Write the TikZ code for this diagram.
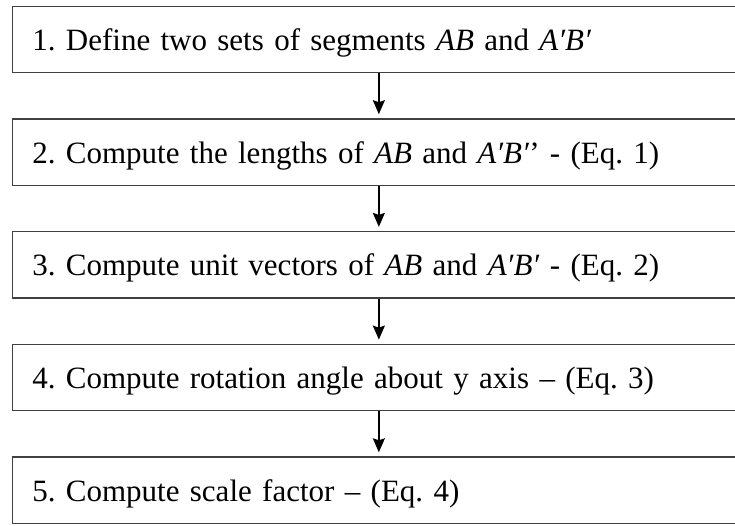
\documentclass[tikz,border=0pt]{standalone}
\usepackage{fontspec}
\setmainfont{Liberation Serif}
\usetikzlibrary{arrows.meta}
\frenchspacing
\begin{document}
\begin{tikzpicture}[x=1pt, y=-1pt, >={Stealth[length=14pt,width=12pt,inset=2pt]},
  stepbox/.style={draw=black!75, line width=1.3pt, anchor=north west,
    minimum width=733pt, minimum height=66.5pt, text width=693pt,
    inner xsep=20pt, align=left, text height=25pt, text depth=3pt,
    font=\fontsize{31}{37}\selectfont},
  flow/.style={->, line width=1.6pt, shorten >=4pt}]
\useasboundingbox (0,0) rectangle (735,525);
\node[stepbox] (s1) at (11.7,5.5) {1. Define two sets of segments \textit{AB} and \textit{A′B′}};
\node[stepbox] (s2) at (11.7,118.2) {2. Compute the lengths of \textit{AB} and \textit{A′B′}’ - (Eq. 1)};
\node[stepbox] (s3) at (11.7,230.9) {3. Compute unit vectors of \textit{AB} and \textit{A′B′} - (Eq. 2)};
\node[stepbox] (s4) at (11.7,343.6) {4. Compute rotation angle about y axis -- (Eq. 3)};
\node[stepbox] (s5) at (11.7,456.3) {5. Compute scale factor -- (Eq. 4)};
\draw[flow] (s1) -- (s2);
\draw[flow] (s2) -- (s3);
\draw[flow] (s3) -- (s4);
\draw[flow] (s4) -- (s5);
\end{tikzpicture}
\end{document}
